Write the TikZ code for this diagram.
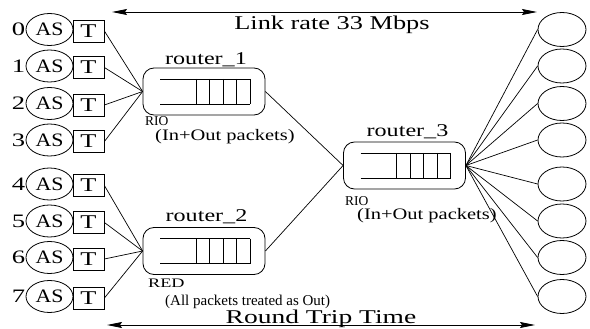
\documentclass[tikz,border=0pt]{standalone}
\usepackage{fontspec}
\setmainfont{Liberation Serif}
\usetikzlibrary{arrows.meta,shapes.geometric}
\newcommand\hstext[3]{\scalebox{#1}[1]{\fontsize{#2}{#2}\selectfont #3}}
\newcommand\queuedraw[1]{%
  \draw[qline] ([shift={(-44,-12.5)}]#1.center) -- ([shift={(46,-12.5)}]#1.center);
  \draw[qline] ([shift={(-44,12.5)}]#1.center) -- ([shift={(46,12.5)}]#1.center);
  \foreach \vx in {-8,5.5,19,32.5,46}{\draw[qline] ([shift={(\vx,-12.5)}]#1.center) -- ([shift={(\vx,12.5)}]#1.center);}
}
\begin{document}
\begin{tikzpicture}[x=1pt,y=-1pt,
  asnode/.style={ellipse, draw, line width=0.8pt, minimum width=47pt, minimum height=32pt, inner sep=0pt},
  tbox/.style={rectangle, draw, line width=0.8pt, minimum width=31pt, minimum height=22pt, inner sep=0pt},
  destnode/.style={ellipse, draw, line width=0.8pt, minimum width=48pt, minimum height=34pt, inner sep=0pt},
  router/.style={draw, line width=0.8pt, rounded corners=11pt, minimum width=122pt, minimum height=47pt, inner sep=0pt},
  qline/.style={line width=0.8pt},
  linkline/.style={line width=0.7pt},
  lbl/.style={inner sep=0pt, anchor=base west},
  clbl/.style={inner sep=0pt, anchor=base},
  spanarrow/.style={line width=0.9pt, {Stealth[length=15pt,width=6pt,inset=2pt]}-{Stealth[length=15pt,width=6pt,inset=2pt]}}
]
\useasboundingbox (0,0) rectangle (590,329);
\fill[white] (0,0) rectangle (590,329);

% sources
\foreach \i/\y in {0/29.5,1/66,2/103.5,3/140,4/184,5/221,6/257.5,7/296.5}{
  \node[asnode] (as\i) at (49.5,\y) {\hstext{1.15}{19}{AS}};
  \node[tbox] (t\i) at (88.5,\y+1.5) {\hstext{1.35}{19.5}{T}};
  \node[inner sep=0.3pt, anchor=east] (n\i) at (as\i.west) {\hstext{1.4}{19}{\i}};
}

% destinations
\foreach \i/\y in {0/29.5,1/66,2/103.5,3/140,4/184,5/221,6/257.5,7/296.5}{
  \node[destnode] (e\i) at (562,\y) {};
}

% routers
\node[router] (r1) at (204,91.5) {};
\node[router] (r2) at (204,251) {};
\node[router] (r3) at (404.5,165.5) {};
\queuedraw{r1}
\queuedraw{r2}
\queuedraw{r3}

\node[clbl] (r1lbl) at (206,65) {\hstext{1.34}{18}{router\_1}};
\node[clbl] (r2lbl) at (206.5,221) {\hstext{1.34}{18}{router\_2}};
\node[clbl] (r3lbl) at (407.5,137) {\hstext{1.34}{18}{router\_3}};

\node[lbl] (rio1) at (145,126) {\hstext{1}{13.5}{RIO}};
\node[lbl] (io1) at (155,140) {\hstext{1.28}{16}{(In+Out packets)}};
\node[lbl] (rio3) at (345,205) {\hstext{1}{13.5}{RIO}};
\node[lbl] (io3) at (357,219) {\hstext{1.28}{16}{(In+Out packets)}};
\node[lbl] (red) at (148,287) {\hstext{1.4}{13}{RED}};
\node[lbl] (allout) at (165,305) {\hstext{1}{15}{(All packets treated as Out)}};

% connections
\foreach \i in {0,1,2,3}{\draw[linkline] (t\i.east) -- (r1.west);}
\foreach \i in {4,5,6,7}{\draw[linkline] (t\i.east) -- (r2.west);}
\draw[linkline] (r1.east) -- (r3.west);
\draw[linkline] (r2.east) -- (r3.west);
\foreach \i in {0,...,7}{\draw[linkline] (r3.east) -- (e\i.west);}

% spans
\coordinate (topl) at (112,12);
\coordinate (topr) at (537,12);
\coordinate (botl) at (107,325);
\coordinate (botr) at (535,325);
\draw[spanarrow] (topl) -- (topr);
\draw[spanarrow] (botl) -- (botr);
\node[clbl] (linkrate) at (332,30) {\hstext{1.35}{19.5}{Link rate 33 Mbps}};
\node[clbl] (rtt) at (321,323) {\hstext{1.41}{19.5}{Round Trip Time}};
\end{tikzpicture}
\end{document}
